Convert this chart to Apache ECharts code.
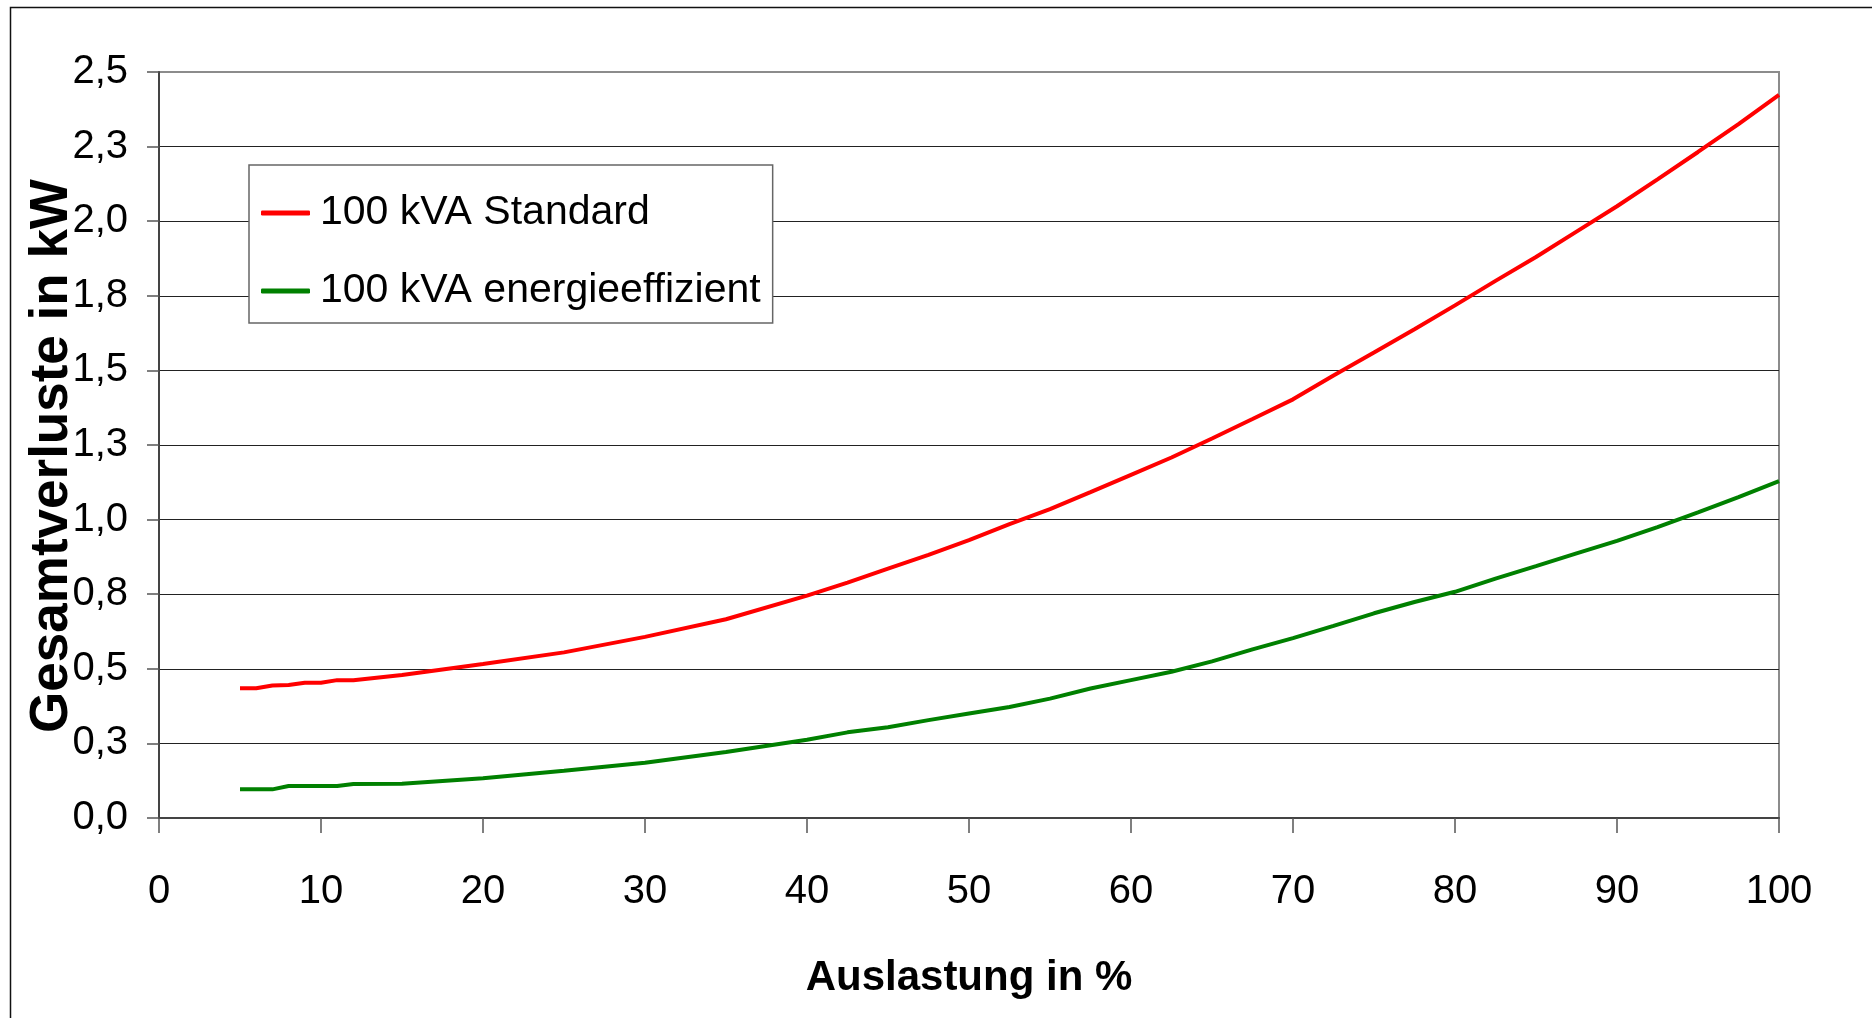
<!DOCTYPE html>
<html>
<head>
<meta charset="utf-8">
<script src="https://cdn.jsdelivr.net/npm/echarts@6/dist/echarts.min.js"></script>
<style>
html,body{margin:0;padding:0;background:#fff;}
#chart{width:1872px;height:1018px;}
</style>
</head>
<body>
<div id="chart"></div>
<script>
const loadPct = [5,6,7,8,9,10,11,12,15,17.5,20,25,30,35,40,42.5,45,47.5,50,52.5,55,57.5,60,62.5,65,67.5,70,72.5,75,77.5,80,82.5,85,87.5,90,92.5,95,97.5,100];
const standardKW = [0.435,0.435,0.444,0.446,0.453,0.453,0.462,0.462,0.479,0.498,0.516,0.555,0.607,0.666,0.745,0.789,0.836,0.882,0.931,0.985,1.035,1.092,1.150,1.208,1.272,1.337,1.403,1.483,1.56,1.638,1.718,1.80,1.88,1.965,2.05,2.14,2.232,2.325,2.423];
const efficientKW = [0.096,0.096,0.096,0.107,0.107,0.107,0.107,0.114,0.115,0.124,0.133,0.158,0.185,0.221,0.262,0.287,0.304,0.328,0.350,0.372,0.400,0.434,0.462,0.490,0.525,0.565,0.603,0.644,0.686,0.724,0.758,0.802,0.844,0.887,0.929,0.975,1.024,1.075,1.129];
const seriesNames = ['100 kVA Standard', '100 kVA energieeffizient'];
const yTickLabels = ['0,0','0,3','0,5','0,8','1,0','1,3','1,5','1,8','2,0','2,3','2,5'];
const xAxisTitle = 'Auslastung in %';
const yAxisTitle = 'Gesamtverluste in kW';

const sans = '"Liberation Sans", Arial, Helvetica, sans-serif';
const chart = echarts.init(document.getElementById('chart'), null, {renderer: 'canvas'});

function pairs(xs, ys) { return xs.map((x, i) => [x, ys[i]]); }

const option = {
  backgroundColor: '#fff',
  animation: false,
  grid: {
    left: 159, top: 72, right: 93, bottom: 200,
    show: true, borderColor: '#8c8c8c', borderWidth: 2, backgroundColor: 'transparent'
  },
  legend: {
    orient: 'vertical',
    left: 249, top: 165,
    backgroundColor: '#fff',
    borderColor: '#666', borderWidth: 1.5,
    padding: [20, 12, 4, 12],
    itemGap: 22,
    itemWidth: 49, itemHeight: 5,
    icon: 'roundRect',
    textStyle: {fontFamily: sans, fontSize: 41, color: '#000', lineHeight: 56, padding: [0, 0, 0, 5]},
    data: seriesNames
  },
  xAxis: {
    type: 'value', min: 0, max: 100, interval: 10,
    name: xAxisTitle, nameLocation: 'middle', nameGap: 139,
    nameTextStyle: {fontFamily: sans, fontWeight: 'bold', fontSize: 42, color: '#000'},
    axisLine: {show: true, lineStyle: {color: '#444', width: 2}},
    axisTick: {show: true, length: 15, lineStyle: {color: '#555', width: 1.5}},
    axisLabel: {fontFamily: sans, fontSize: 40, color: '#000', margin: 54},
    splitLine: {show: false}
  },
  yAxis: {
    type: 'value', min: 0, max: 2.5, interval: 0.25,
    axisLine: {show: true, lineStyle: {color: '#444', width: 2}},
    axisTick: {show: true, length: 12, lineStyle: {color: '#555', width: 1.5}},
    axisLabel: {
      fontFamily: sans, fontSize: 40, color: '#000', margin: 31,
      formatter: v => yTickLabels[Math.round(v / 0.25)]
    },
    splitLine: {show: true, showMinLine: false, showMaxLine: false, lineStyle: {color: '#222', width: 1}}
  },
  graphic: [
    {type: 'rect', silent: true, z: -10,
     shape: {x: 10.5, y: 7.5, width: 3000, height: 3000},
     style: {fill: 'none', stroke: '#111', lineWidth: 1.5}},
    {type: 'text', x: 52, y: 456, rotation: Math.PI / 2,
     style: {text: yAxisTitle, fontFamily: sans, fontWeight: 'bold',
             fontSize: 53, fill: '#000', align: 'center', verticalAlign: 'middle'}}
  ],
  series: [
    {name: seriesNames[0], type: 'line', data: pairs(loadPct, standardKW), showSymbol: false, symbol: 'none',
     lineStyle: {color: '#ff0000', width: 4}, itemStyle: {color: '#ff0000'}},
    {name: seriesNames[1], type: 'line', data: pairs(loadPct, efficientKW), showSymbol: false, symbol: 'none',
     lineStyle: {color: '#008000', width: 4}, itemStyle: {color: '#008000'}}
  ]
};
chart.setOption(option);
</script>
</body>
</html>
